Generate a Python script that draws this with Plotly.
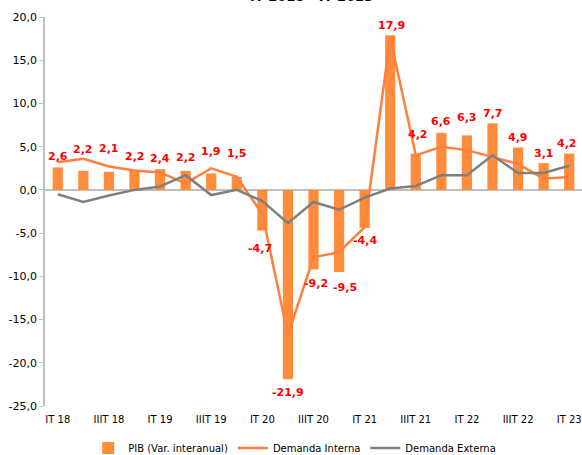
import plotly.graph_objects as go

categories = ["IT 18", "IIT 18", "IIIT 18", "IVT 18",
              "IT 19", "IIT 19", "IIIT 19", "IVT 19",
              "IT 20", "IIT 20", "IIIT 20", "IVT 20",
              "IT 21", "IIT 21", "IIIT 21", "IVT 21",
              "IT 22", "IIT 22", "IIIT 22", "IVT 22",
              "IT 23"]
pib = [2.6, 2.2, 2.1, 2.2, 2.4, 2.2, 1.9, 1.5, -4.7, -21.9, -9.2, -9.5,
       -4.4, 17.9, 4.2, 6.6, 6.3, 7.7, 4.9, 3.1, 4.2]
demanda_interna = [3.2, 3.6, 2.7, 2.25, 2.0, 0.75, 2.5, 1.5, -2.8, -16.8,
                   -7.8, -7.2, -4.3, 17.6, 4.0, 5.0, 4.6, 3.8, 3.0, 1.3, 1.5]
demanda_externa = [-0.5, -1.4, -0.65, 0.0, 0.4, 1.7, -0.6, 0.0, -1.3, -3.85,
                   -1.4, -2.3, -0.9, 0.15, 0.45, 1.7, 1.7, 4.0, 1.95, 1.95, 2.8]
tick_labels = categories[::2]
y_ticks = [-25, -20, -15, -10, -5, 0, 5, 10, 15, 20]

# label offsets (pixels) away from bar end
label_shift = [11, 21, 23, 14, 11, 13, 22, 23, 18, 13, 14, 15,
               13, 10, 19, 11, 18, 10, 10, 10, 10]
label_xshift = [0, 0, 0, 0, 0, 0, 0, 0, -2, 0, 2, 6, 0, 1, 2, 0, 0, 0, 0, 0, -2]

BAR = "#FF8C3A"
LINE_I = "#FF7F3F"
LINE_E = "#7F7F7F"


def fmt(v):
    return f"{v:.1f}".replace(".", ",")


fig = go.Figure()
fig.add_trace(go.Bar(x=categories, y=pib, name="PIB (Var. interanual)",
                     marker=dict(color=BAR, line=dict(width=0)), width=0.4))
fig.add_trace(go.Scatter(x=categories, y=demanda_interna, mode="lines",
                         name="Demanda Interna",
                         line=dict(color=LINE_I, width=2.5)))
fig.add_trace(go.Scatter(x=categories, y=demanda_externa, mode="lines",
                         name="Demanda Externa",
                         line=dict(color=LINE_E, width=2.5)))

for i, (c, v) in enumerate(zip(categories, pib)):
    s = label_shift[i] if v >= 0 else -label_shift[i]
    fig.add_annotation(x=c, y=v, text=fmt(v),
                       showarrow=False, yshift=s, xshift=label_xshift[i],
                       yanchor="middle",
                       font=dict(family="DejaVu Sans", size=11, color="#FF0000",
                                 weight="bold"))

fig.add_annotation(xref="paper", yref="paper", x=0.496, y=1.028,
                   xanchor="center", yanchor="bottom", showarrow=False,
                   text="<b>IT 2018 - IT 2023</b>",
                   font=dict(family="DejaVu Sans", size=13, color="#000000"))

fig.update_layout(
    width=582, height=455,
    margin=dict(l=45, r=0, t=17, b=49, autoexpand=False),
    paper_bgcolor="white", plot_bgcolor="white",
    separators=",.",
    bargap=0.6,
    showlegend=True,
    legend=dict(orientation="h", x=0.465, xanchor="center", y=-0.108,
                yanchor="middle", font=dict(family="DejaVu Sans", size=10,
                                            color="#000000"),
                itemwidth=30, tracegroupgap=0),
    xaxis=dict(type="category", categoryorder="array", categoryarray=categories,
               range=[-0.5, 20.5], tickmode="array", tickvals=tick_labels,
               ticktext=tick_labels, showgrid=False, showline=False,
               zeroline=False, ticks="", automargin=False,
               ticklabelstandoff=6,
               tickfont=dict(family="DejaVu Sans", size=10, color="#000000")),
    yaxis=dict(range=[-25, 20], tickmode="array", tickvals=y_ticks,
               ticktext=[fmt(t) for t in y_ticks], showgrid=False,
               showline=True, linecolor="#BFBFBF", linewidth=1.5,
               ticks="outside", ticklen=4, tickcolor="#BFBFBF",
               zeroline=True, zerolinecolor="#BFBFBF", zerolinewidth=1.5,
               automargin=False,
               tickfont=dict(family="DejaVu Sans", size=11, color="#000000")),
)

fig.write_html("out.html",
               config={"displayModeBar": False},
               post_script="document.body.style.margin='0';"
                           "document.body.style.overflow='hidden';")
